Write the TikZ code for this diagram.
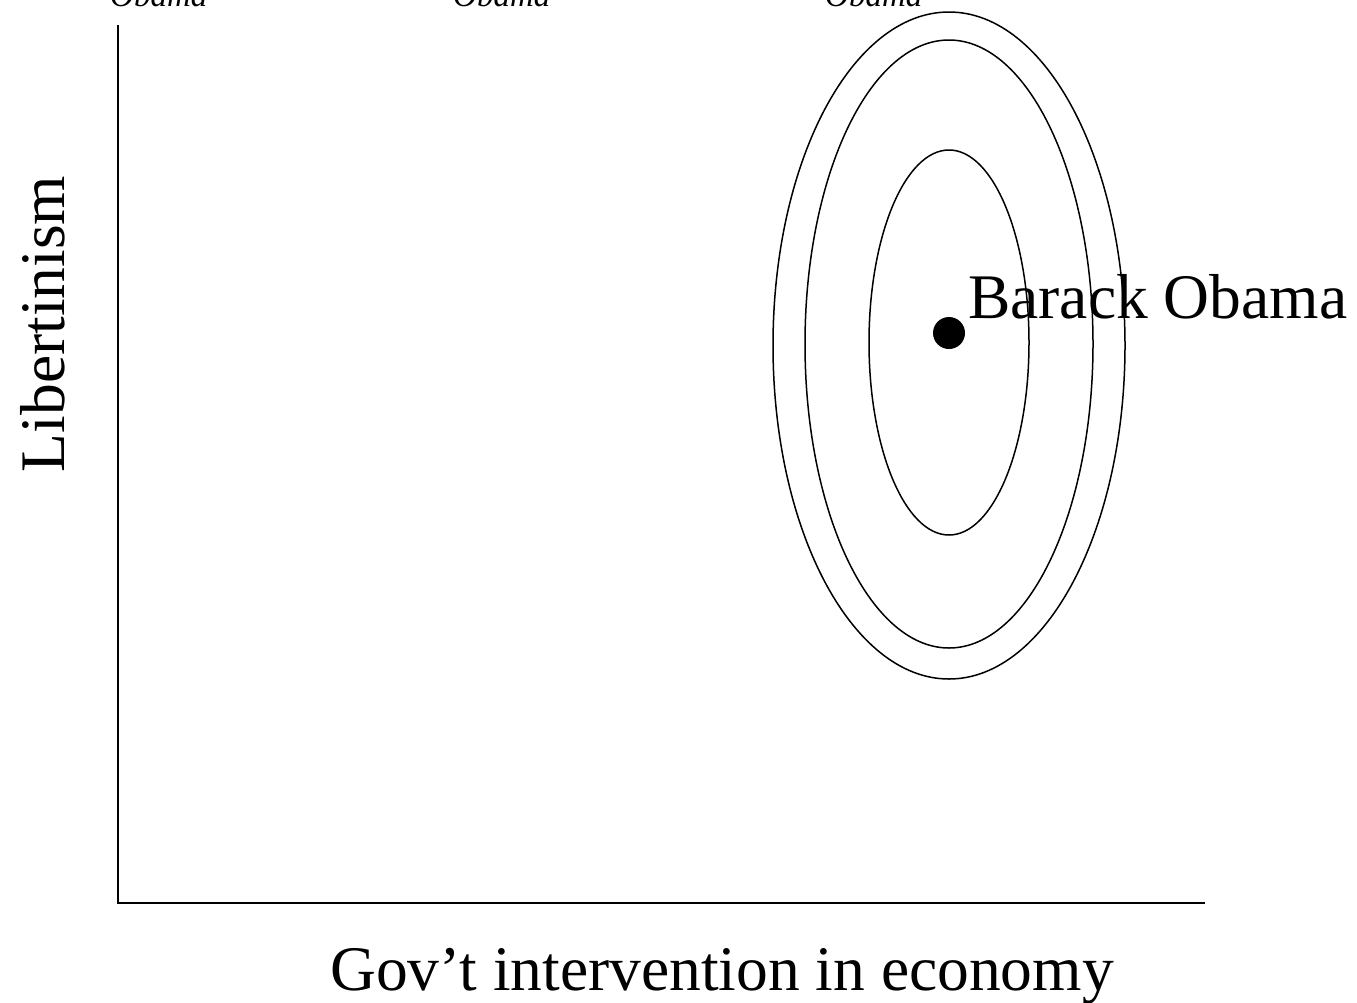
\documentclass[tikz,border=0pt]{standalone}
\usepackage{fontspec}
\setmainfont{Liberation Serif}
\begin{document}
\begin{tikzpicture}[x=1pt,y=-1pt,
  axis/.style={line width=2.2pt},
  contour/.style={line width=1.5pt},
  big/.style={font=\fontsize{63.5}{70}\selectfont, inner sep=0pt},
  cut/.style={font=\fontsize{33}{36}\selectfont\itshape, inner sep=0pt, anchor=base west}]
\useasboundingbox (0,0) rectangle (1357,1002);
\begin{scope}
\clip (0,0) rectangle (1357,1002);
\node[cut] (t1) at (110,6.5) {Obama};
\node[cut] (t2) at (453,6.5) {Obama};
\node[cut] (t3) at (825,6.5) {Obama};
\end{scope}
\coordinate (top) at (118,25);
\coordinate (orig) at (118,903);
\coordinate (right) at (1205,903);
\draw[axis] (top) -- (orig) -- (right);
\draw[contour] (949,345.5) ellipse [x radius=176, y radius=333.5];
\draw[contour] (949,344) ellipse [x radius=144, y radius=304];
\draw[contour] (949,342.5) ellipse [x radius=80, y radius=192.5];
\fill (949,333) circle [radius=16];
\node[big, anchor=base west] (bo) at (968,318) {Barack Obama};
\node[big, anchor=base, rotate=90] (yl) at (64,324) {Libertinism};
\node[big, anchor=base] (xl) at (722,990) {Gov’t intervention in economy};
\end{tikzpicture}
\end{document}
